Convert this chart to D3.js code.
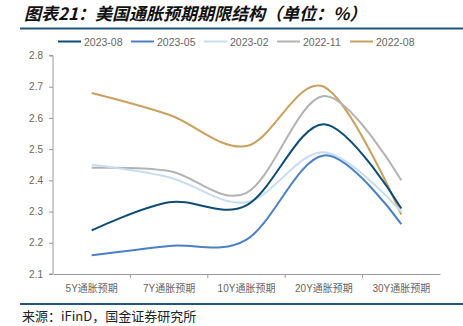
<!DOCTYPE html>
<html><head><meta charset="utf-8">
<script src="https://cdn.jsdelivr.net/npm/d3@7"></script>
<style>body{margin:0;background:#fff}svg{display:block}</style>
</head><body>
<svg id="c" width="463" height="326"></svg>
<script>
const categories = ["5Y通胀预期","7Y通胀预期","10Y通胀预期","20Y通胀预期","30Y通胀预期"];
const seriesNames = ["2023-08","2023-05","2023-02","2022-11","2022-08"];
const v202308 = [2.24, 2.33, 2.32, 2.58, 2.31];
const v202305 = [2.16, 2.19, 2.21, 2.48, 2.26];
const v202302 = [2.45, 2.41, 2.33, 2.49, 2.30];
const v202211 = [2.44, 2.43, 2.36, 2.67, 2.40];
const v202208 = [2.68, 2.61, 2.51, 2.70, 2.29];
const yTicks = [2.1, 2.2, 2.3, 2.4, 2.5, 2.6, 2.7, 2.8];
const colors = ["#0D4C77", "#4A80C6", "#C8DDF2", "#B3B3B3", "#C9A05C"];
const seriesValues = [v202308, v202305, v202302, v202211, v202208];

const svg = d3.select("#c");
const font = "Arial, 'Liberation Sans', 'Noto Sans CJK SC', sans-serif";

// title
svg.append("text").attr("x", 24).attr("y", 20)
  .attr("font-family", "'Noto Sans CJK SC', sans-serif")
  .attr("font-size", 17).attr("font-weight", "bold").attr("font-style", "italic")
  .attr("fill", "#111").text("图表21：美国通胀预期期限结构（单位：%）");
svg.append("line").attr("x1", 20).attr("x2", 463).attr("y1", 28.5).attr("y2", 28.5)
  .attr("stroke", "#23557E").attr("stroke-width", 2);

// footer
svg.append("line").attr("x1", 20).attr("x2", 463).attr("y1", 304).attr("y2", 304)
  .attr("stroke", "#23557E").attr("stroke-width", 2);
svg.append("text").attr("x", 22).attr("y", 320.5)
  .attr("font-family", "'Noto Sans CJK SC', sans-serif")
  .attr("font-size", 13).attr("fill", "#222").text("来源：iFinD，国金证券研究所");

const x = d3.scaleBand().domain(categories).range([53, 440]);
const y = d3.scaleLinear().domain([2.1, 2.8]).range([274, 55.5]);

// y axis
const ya = svg.append("g").attr("transform", "translate(53,0)")
  .call(d3.axisLeft(y).tickValues(yTicks).tickFormat(d3.format(".1f")).tickSize(4).tickPadding(6));
ya.select(".domain").attr("stroke", "#9a9a9a").attr("d", "M-4,55.5H0V274H-4");
ya.selectAll(".tick line").attr("stroke", "#9a9a9a");
ya.selectAll(".tick text").attr("font-family", font).attr("font-size", 10).attr("fill", "#666");

// x axis
const xa = svg.append("g").attr("transform", "translate(0,274)")
  .call(d3.axisBottom(x).tickSize(0).tickPadding(11));
xa.select(".domain").attr("stroke", "#9a9a9a");
xa.selectAll(".tick text").attr("font-family", font).attr("font-size", 10).attr("fill", "#666");
// category separators
xa.selectAll(".sep").data(categories.slice(1)).enter().append("line")
  .attr("x1", d => x(d)).attr("x2", d => x(d)).attr("y1", 0).attr("y2", 4)
  .attr("stroke", "#9a9a9a");

// lines (draw oldest first so newest on top)
const line = d3.line()
  .x((d, i) => x(categories[i]) + x.bandwidth() / 2)
  .y(d => y(d))
  .curve(d3.curveCatmullRom.alpha(0));
const order = [4, 3, 2, 1, 0];
order.forEach(k => {
  svg.append("path").datum(seriesValues[k]).attr("d", line)
    .attr("fill", "none").attr("stroke", colors[k]).attr("stroke-width", 2);
});

// legend
const lg = svg.append("g");
seriesNames.forEach((n, i) => {
  const lx = 58 + i * 73;
  lg.append("line").attr("x1", lx).attr("x2", lx + 23).attr("y1", 41.5).attr("y2", 41.5)
    .attr("stroke", colors[i]).attr("stroke-width", 2);
  lg.append("text").attr("x", lx + 26).attr("y", 45.5)
    .attr("font-family", font).attr("font-size", 10.5).attr("fill", "#666").text(n);
});
</script>
</body></html>
